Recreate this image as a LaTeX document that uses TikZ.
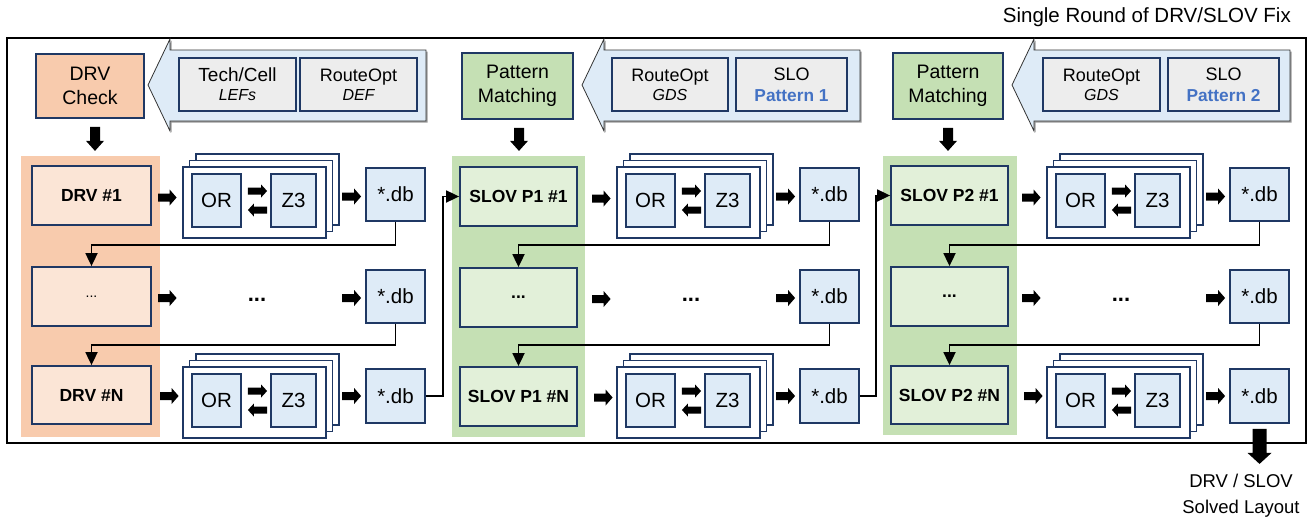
\documentclass[tikz,border=0pt]{standalone}
\usepackage{fontspec}
\setmainfont{Liberation Sans}
\usetikzlibrary{calc,arrows.meta}
\definecolor{navy}{HTML}{1F3864}
\definecolor{peachD}{HTML}{F8CBAD}
\definecolor{peachL}{HTML}{FBE5D6}
\definecolor{greenD}{HTML}{C5E0B4}
\definecolor{greenL}{HTML}{E2F0D9}
\definecolor{lblue}{HTML}{DEEBF7}
\definecolor{lgray}{HTML}{EDEDED}
\definecolor{pblue}{HTML}{4472C4}
\newcommand\fs[2]{\fontsize{#1}{#2}\selectfont}
\newcommand\rnode[6]{\node[#1,minimum width={(#4)-(#2)},minimum height={(#5)-(#3)}] (#6) at ({((#2)+(#4))/2},{((#3)+(#5))/2})}
\newcommand\barR[5]{\fill let \p1=(#1), \p2=(#2) in (\x1,\y1+#3) -- (\x2-#5,\y1+#3) -- (\x2-#5,\y1+#4) -- (\x2,\y1) -- (\x2-#5,\y1-#4) -- (\x2-#5,\y1-#3) -- (\x1,\y1-#3) -- cycle;}
\newcommand\barL[5]{\fill let \p1=(#1), \p2=(#2) in (\x1,\y1+#3) -- (\x2+#5,\y1+#3) -- (\x2+#5,\y1+#4) -- (\x2,\y1) -- (\x2+#5,\y1-#4) -- (\x2+#5,\y1-#3) -- (\x1,\y1-#3) -- cycle;}
\newcommand\barD[5]{\fill let \p1=(#1), \p2=(#2) in (\x1-#3,\y1) -- (\x1-#3,\y2+#5) -- (\x1-#4,\y2+#5) -- (\x1,\y2) -- (\x1+#4,\y2+#5) -- (\x1+#3,\y2+#5) -- (\x1+#3,\y1) -- cycle;}
\begin{document}
\begin{tikzpicture}[x=1pt,y=-1pt,
  box/.style={draw=navy, line width=1.8pt, inner sep=0pt, align=center, text=black},
  hdr/.style={box, font=\fs{19.5}{23.4}},
  inbox/.style={box, fill=lgray, font=\fs{18}{19}},
  lbox/.style={box, font=\bfseries\fs{17.5}{21}},
  stk/.style={box, fill=white},
  sol/.style={box, fill=lblue, font=\fs{20.5}{24}},
  dbbox/.style={box, fill=lblue, font=\fs{20.5}{24}},
  conn/.style={line width=1.8pt, -{Triangle[length=13pt 0 0, width=12pt 0 0]}},
  inarrow/.style={fill=lblue, draw=black!80, line width=0.8pt}]
\useasboundingbox (0,0) rectangle (1313,522);
% column backgrounds
\fill[peachD] (21,156) rectangle (160,437);
\fill[greenD] (452,156) rectangle (585,437);
\fill[greenD] (883,156) rectangle (1017,435);
% frame
\draw[line width=1.8pt] (7,38) rectangle (1306,443);
\node[anchor=east, font=\fs{20.5}{24}, inner sep=0pt] (title) at (1291,17) {Single Round of DRV/SLOV Fix};
% input arrows
\foreach \b in {0,434,864} {
  \fill[black!40] ([shift={(1.5pt,-1.5pt)}]148+\b,85) -- ([shift={(1.5pt,-1.5pt)}]170+\b,39) -- ([shift={(1.5pt,-1.5pt)}]170+\b,50) -- ([shift={(1.5pt,-1.5pt)}]426+\b,50) -- ([shift={(1.5pt,-1.5pt)}]426+\b,121) -- ([shift={(1.5pt,-1.5pt)}]170+\b,121) -- ([shift={(1.5pt,-1.5pt)}]170+\b,131) -- cycle;
  \draw[inarrow] (148+\b,85) -- (170+\b,39) -- (170+\b,50) -- (426+\b,50) -- (426+\b,121) -- (170+\b,121) -- (170+\b,131) -- cycle;
}
% headers
\rnode{hdr,fill=peachD}{36}{54}{144}{118}{H1} {DRV\\Check};
\rnode{hdr,fill=greenD}{462}{53}{573}{119}{H2} {Pattern\\Matching};
\rnode{hdr,fill=greenD}{893}{53}{1003}{119}{H3} {Pattern\\Matching};
% input boxes
\rnode{inbox}{179}{58}{296}{111}{A1} {\fs{19}{19}Tech/Cell\\{\itshape\fs{16}{19}LEFs}};
\rnode{inbox}{300}{58}{417}{111}{B1} {RouteOpt\\{\itshape\fs{16}{19}DEF}};
\rnode{inbox}{612}{58}{728}{111}{A2} {RouteOpt\\{\itshape\fs{16}{19}GDS}};
\rnode{inbox,font=\fs{18}{21}}{736}{58}{847}{111}{B2} {SLO\\{\bfseries\color{pblue}\fs{17.3}{21}Pattern 1}};
\rnode{inbox}{1043}{58}{1160}{111}{A3} {RouteOpt\\{\itshape\fs{16}{19}GDS}};
\rnode{inbox,font=\fs{18}{21}}{1168}{58}{1279}{111}{B3} {SLO\\{\bfseries\color{pblue}\fs{17.3}{21}Pattern 2}};
% down arrows from headers
\barD{$(H1.south)+(5,8)$}{$(H1.south)+(5,32)$}{5pt}{9pt}{10pt}
\barD{$(H2.south)+(1.5,8)$}{$(H2.south)+(1.5,31)$}{5pt}{9pt}{10pt}
\barD{$(H3.south)+(0,8)$}{$(H3.south)+(0,31)$}{5pt}{9pt}{10pt}
% left boxes
\rnode{lbox,fill=peachL}{32}{166}{151}{225}{L1-1} {DRV \#1};
\rnode{lbox,fill=peachL}{32}{267}{151}{326}{L1-2} {\mdseries\fs{14}{17}...};
\rnode{lbox,fill=peachL}{32}{366}{151}{424}{L1-3} {DRV \#N};
\rnode{lbox,fill=greenL}{460}{167}{577}{226}{L2-1} {SLOV P1 \#1};
\rnode{lbox,fill=greenL}{460}{268}{577}{327}{L2-2} {...};
\rnode{lbox,fill=greenL}{460}{367}{577}{426}{L2-3} {SLOV P1 \#N};
\rnode{lbox,fill=greenL}{891}{166}{1008}{225}{L3-1} {SLOV P2 \#1};
\rnode{lbox,fill=greenL}{891}{267}{1008}{326}{L3-2} {...};
\rnode{lbox,fill=greenL}{891}{366}{1008}{424}{L3-3} {SLOV P2 \#N};
% solver stacks, databases, connectors
\foreach \c/\b in {1/0,2/434,3/864} {
  \foreach \r/\dy in {1/0,3/200} {
    \rnode{stk}{196+\b}{154+\dy}{339+\b}{225+\dy}{S\c-\r-c} {};
    \rnode{stk}{189.5+\b}{160.5+\dy}{332.5+\b}{231.5+\dy}{S\c-\r-b} {};
    \rnode{stk}{183+\b}{167+\dy}{326+\b}{238+\dy}{S\c-\r-a} {};
    \rnode{sol}{192+\b}{174+\dy}{241+\b}{227+\dy}{O\c-\r} {OR};
    \rnode{sol}{271+\b}{174+\dy}{316+\b}{227+\dy}{Z\c-\r} {Z3};
    \barR{$(O\c-\r.east)+(6,-9.5)$}{$(Z\c-\r.west)+(-3,-9.5)$}{3.5pt}{6.5pt}{6pt}
    \barL{$(Z\c-\r.west)+(-3,9.5)$}{$(O\c-\r.east)+(6,9.5)$}{3.5pt}{6.5pt}{6pt}
  }
  \rnode{dbbox}{366+\b}{168}{425+\b}{221}{D\c-1} {*.db};
  \rnode{dbbox}{366+\b}{270}{425+\b}{323}{D\c-2} {*.db};
  \rnode{dbbox}{366+\b}{369}{425+\b}{423}{D\c-3} {*.db};
  \node[font=\bfseries\fs{22}{24}] (M\c) at (257+\b,300) {...};
  % block arrows
  \barR{$(S\c-1-a.west |- L\c-1.east)+(-24,2)$}{$(S\c-1-a.west |- L\c-1.east)+(-5.5,2)$}{4pt}{8pt}{7pt}
  \barR{$(S\c-1-a.west |- L\c-2.east)+(-24,1.5)$}{$(S\c-1-a.west |- L\c-2.east)+(-5.5,1.5)$}{4pt}{8pt}{7pt}
  \barR{$(S\c-3-a.west |- L\c-3.east)+(-22,1)$}{$(S\c-3-a.west |- L\c-3.east)+(-3.5,1)$}{4pt}{8pt}{7pt}
  \barR{$(D\c-1.west)+(-23,2)$}{$(D\c-1.west)+(-4,2)$}{4pt}{8pt}{7pt}
  \barR{$(D\c-2.west)+(-23,1.5)$}{$(D\c-2.west)+(-4,1.5)$}{4pt}{8pt}{7pt}
  \barR{$(D\c-3.west)+(-23,0)$}{$(D\c-3.west)+(-4,0)$}{4pt}{8pt}{7pt}
  % connectors
  \draw[conn] (D\c-1.south) -- ++(0,23) -| (L\c-2.north);
  \draw[conn] (D\c-2.south) -- ++(0,21) -| (L\c-3.north);
}
\draw[conn] (D1-3.east) -- ++(17,0) |- (L2-1.west);
\draw[conn] (D2-3.east) -- ++(16,0) |- (L3-1.west);
% output
\barD{$(D3-3.south)+(0,5)$}{$(D3-3.south)+(0,40)$}{7pt}{12pt}{11pt}
\node[align=center, font=\fs{18.5}{26}, inner sep=0pt] (out) at (1241,496) {DRV / SLOV\\Solved Layout};
\end{tikzpicture}
\end{document}
